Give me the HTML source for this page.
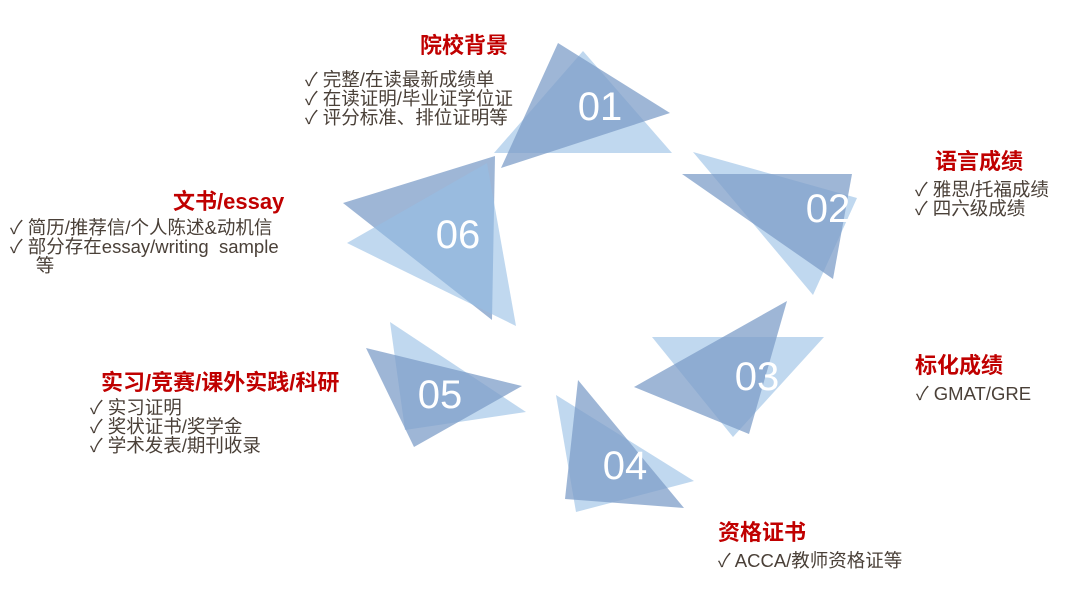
<!DOCTYPE html>
<html><head><meta charset="utf-8"><style>
body{margin:0;width:1080px;height:594px;background:#fff;overflow:hidden;position:relative;font-family:"Liberation Sans","Noto Sans CJK SC",sans-serif}
.t{position:absolute;color:#c00000;font-weight:bold;font-size:22px;line-height:24px;white-space:nowrap}
.l{position:absolute;color:#4a4038;font-size:18.5px;line-height:19px;white-space:nowrap}
svg{position:absolute;left:0;top:0}
</style></head><body>
<svg width="1080" height="594">
<g>
<polygon points="583,51 672,153 494,153" fill="rgba(150,190,228,0.6)"/>
<polygon points="558,43 670,113 501,168" fill="rgba(125,158,200,0.75)"/>
<polygon points="693,152 857,198 813,295" fill="rgba(150,190,228,0.6)"/>
<polygon points="682,174 852,174 833,279" fill="rgba(125,158,200,0.75)"/>
<polygon points="652,337 824,337 733,437" fill="rgba(150,190,228,0.6)"/>
<polygon points="787,301 634,387 749,434" fill="rgba(125,158,200,0.75)"/>
<polygon points="556,395 694,481 576,512" fill="rgba(150,190,228,0.6)"/>
<polygon points="578,380 684,508 565,499" fill="rgba(125,158,200,0.75)"/>
<polygon points="390,322 526,412 405,430" fill="rgba(150,190,228,0.6)"/>
<polygon points="366,348 522,386 414,447" fill="rgba(125,158,200,0.75)"/>
<polygon points="495,156 343,203 492,320" fill="rgba(125,158,200,0.75)"/>
<polygon points="487,163 347,243 516,326" fill="rgba(150,190,228,0.6)"/>
</g>
<g fill="#fff" font-family="Liberation Sans,sans-serif" font-size="40" text-anchor="middle">
<text x="600" y="120">01</text>
<text x="828" y="222">02</text>
<text x="757" y="390">03</text>
<text x="625" y="479">04</text>
<text x="440" y="408">05</text>
<text x="458" y="248">06</text>
</g>
</svg>
<div class="t" style="left:420px;top:34px">院校背景</div>
<div class="l" style="left:305px;top:70px">✓ 完整/在读最新成绩单<br>✓ 在读证明/毕业证学位证<br>✓ 评分标准、排位证明等</div>
<div class="t" style="left:935px;top:150px">语言成绩</div>
<div class="l" style="left:915px;top:180px">✓ 雅思/托福成绩<br>✓ 四六级成绩</div>
<div class="t" style="left:915px;top:354px">标化成绩</div>
<div class="l" style="left:916px;top:384px">✓ GMAT/GRE</div>
<div class="t" style="left:718px;top:521px">资格证书</div>
<div class="l" style="left:718px;top:551px">✓ ACCA/教师资格证等</div>
<div class="t" style="left:173px;top:190px">文书/essay</div>
<div class="l" style="left:10px;top:218px">✓ 简历/推荐信/个人陈述&amp;动机信<br>✓ 部分存在essay/writing&nbsp;&nbsp;sample<br>&nbsp;&nbsp;&nbsp;&nbsp;&nbsp;等</div>
<div class="t" style="left:101px;top:371px">实习/竞赛/课外实践/科研</div>
<div class="l" style="left:90px;top:398px">✓ 实习证明<br>✓ 奖状证书/奖学金<br>✓ 学术发表/期刊收录</div>
</body></html>
